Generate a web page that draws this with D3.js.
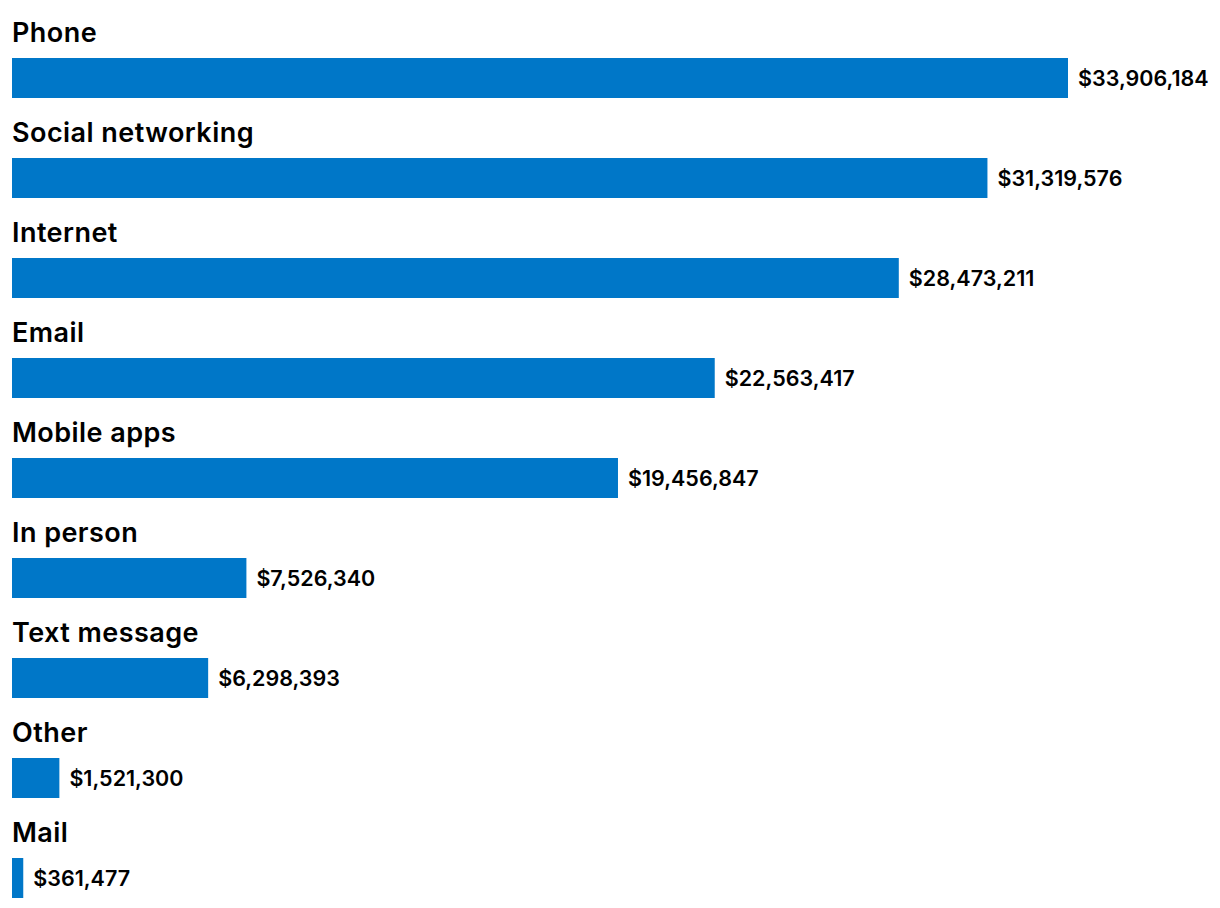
<!DOCTYPE html>
<html><head><meta charset="utf-8">
<script src="https://cdn.jsdelivr.net/npm/d3@7"></script>
<style>body{margin:0;background:#fff}svg{display:block}text{font-family:Inter,"Noto Sans",sans-serif}</style>
</head><body><svg id="c" width="1220" height="908"></svg>
<script>
const categories = ["Phone","Social networking","Internet","Email","Mobile apps","In person","Text message","Other","Mail"];
const values = [33906184,31319576,28473211,22563417,19456847,7526340,6298393,1521300,361477];

const svg = d3.select("#c");
const x = d3.scaleLinear().domain([0, 33906184]).range([12, 1068]);
const y = d3.scaleBand().domain(categories).range([0, 900]);
const fmt = d3.format("$,");

const g = svg.selectAll("g.row").data(categories).join("g")
  .attr("transform", d => `translate(0,${y(d)})`);
g.append("text").attr("x", 12).attr("y", 42)
  .attr("font-size", 27).attr("font-weight", 600).attr("letter-spacing", 0.45)
  .attr("fill", "#000").text(d => d);
g.append("rect").attr("x", x(0)).attr("y", 58).attr("height", 40)
  .attr("width", (d,i) => x(values[i]) - x(0)).attr("fill", "#0077c8");
g.append("text").attr("x", (d,i) => x(values[i]) + 10).attr("y", 86)
  .attr("font-size", 21.5).attr("font-weight", 600).attr("fill", "#000")
  .text((d,i) => fmt(values[i]));
</script></body></html>
